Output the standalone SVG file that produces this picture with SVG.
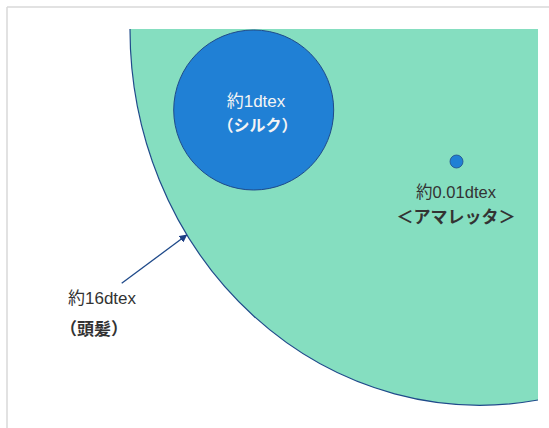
<svg xmlns="http://www.w3.org/2000/svg" width="549" height="428" viewBox="0 0 549 428">
  <style>
    .lbl { font-family: "Liberation Sans", "Noto Sans CJK JP", sans-serif; fill: #333333; }
    .jp { font-family: "Noto Sans CJK JP", sans-serif; font-weight: bold; fill: #333333; }
    .white { fill: #F4F4F4; }
  </style>
  <defs>
    <marker id="arr" viewBox="0 0 10 10" refX="9" refY="5" markerWidth="8" markerHeight="8" markerUnits="userSpaceOnUse" orient="auto">
      <path d="M0,0 L10,5 L0,10 Z" fill="#1F3F85"/>
    </marker>
  </defs>
  <rect x="0" y="0" width="549" height="428" fill="#FFFFFF"/>
  <g id="frame">
    <line x1="7" y1="7" x2="549" y2="7" stroke="#D9D9D9" stroke-width="1.5"/>
    <line x1="7" y1="7" x2="7" y2="428" stroke="#D9D9D9" stroke-width="1.5"/>
  </g>
  <g id="hair">
    <path d="M130,29 A350,376 0 0 0 538,400 L538,29 Z" fill="#85DEC0"/>
    <path d="M130,29 A350,376 0 0 0 538,400" fill="none" stroke="#1F4A8A" stroke-width="1.2"/>
  </g>
  <g id="silk">
    <circle cx="253.7" cy="110" r="80" fill="#2080D5" stroke="#1F4A8A" stroke-width="1"/>
    <text class="lbl white" x="256" y="107" font-size="17" text-anchor="middle">約1dtex</text>
    <text class="jp white" x="257.5" y="131" font-size="16" text-anchor="middle">（シルク）</text>
  </g>
  <g id="amaretta">
    <circle cx="456.5" cy="161.5" r="6.5" fill="#2080D5" stroke="#1F4A8A" stroke-width="0.8"/>
    <text class="lbl" x="456" y="198" font-size="16.5" text-anchor="middle">約0.01dtex</text>
    <text class="jp" x="456" y="223" font-size="17" text-anchor="middle">＜アマレッタ＞</text>
  </g>
  <g id="hair-label">
    <text class="lbl" x="68" y="304" font-size="17">約16dtex</text>
    <text class="jp" x="60" y="335" font-size="17">（頭髪）</text>
  </g>
  <g id="connectors">
    <line x1="121.7" y1="283.3" x2="186.7" y2="235" stroke="#1F4A8A" stroke-width="1.3" marker-end="url(#arr)"/>
  </g>
</svg>
